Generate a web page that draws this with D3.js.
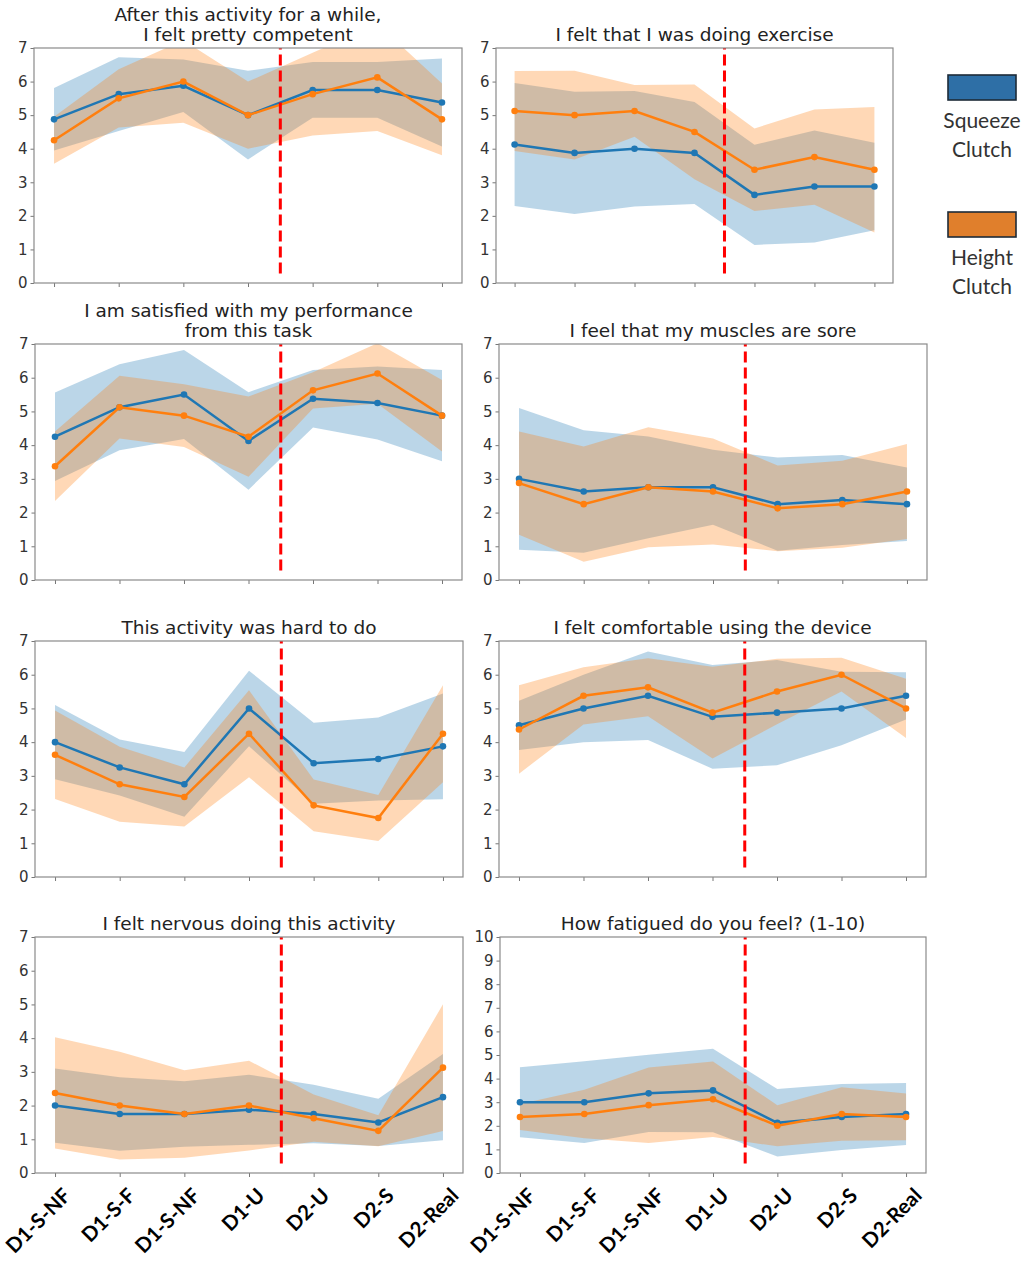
<!DOCTYPE html>
<html>
<head>
<meta charset="utf-8">
<script src="https://cdn.jsdelivr.net/npm/d3@7"></script>
<style>
  body { margin: 0; background: #fff; }
  svg { display: block; }
</style>
</head>
<body>
<div id="chart"></div>
<script>
// Conditions on the x axis (same for every panel)
const conditions = ['D1-S-NF', 'D1-S-F', 'D1-S-NF', 'D1-U', 'D2-U', 'D2-S', 'D2-Real'];
const seriesNames = [['Squeeze', 'Clutch'], ['Height', 'Clutch']];

// Mean and standard deviation per question, Squeeze clutch vs Height clutch
const competentSqueeze = [4.875, 5.625, 5.875, 5.0, 5.75, 5.75, 5.375];
const competentSqueezeSd = [0.93, 1.1, 0.78, 1.32, 0.83, 0.83, 1.31];
const competentHeight = [4.25, 5.5, 6.0, 5.0, 5.625, 6.125, 4.875];
const competentHeightSd = [0.7, 0.87, 1.23, 1.0, 1.23, 1.6, 1.07];

const exerciseSqueeze = [4.125, 3.875, 4.0, 3.875, 2.625, 2.875, 2.875];
const exerciseSqueezeSd = [1.83, 1.82, 1.72, 1.52, 1.49, 1.67, 1.3];
const exerciseHeight = [5.125, 5.0, 5.125, 4.5, 3.375, 3.75, 3.375];
const exerciseHeightSd = [1.19, 1.32, 0.77, 1.41, 1.23, 1.42, 1.87];

const satisfiedSqueeze = [4.25, 5.125, 5.5, 4.125, 5.375, 5.25, 4.875];
const satisfiedSqueezeSd = [1.31, 1.275, 1.32, 1.445, 0.855, 1.08, 1.355];
const satisfiedHeight = [3.375, 5.125, 4.875, 4.25, 5.625, 6.125, 4.875];
const satisfiedHeightSd = [1.03, 0.93, 0.93, 1.19, 0.54, 0.9, 1.06];

const soreSqueeze = [3.0, 2.625, 2.75, 2.75, 2.25, 2.375, 2.25];
const soreSqueezeSd = [2.1, 1.815, 1.51, 1.11, 1.38, 1.335, 1.09];
const soreHeight = [2.875, 2.25, 2.75, 2.625, 2.125, 2.25, 2.625];
const soreHeightSd = [1.53, 1.71, 1.78, 1.57, 1.27, 1.29, 1.41];

const hardSqueeze = [4.0, 3.25, 2.75, 5.0, 3.375, 3.5, 3.875];
const hardSqueezeSd = [1.1, 0.83, 0.96, 1.12, 1.2, 1.23, 1.57];
const hardHeight = [3.625, 2.75, 2.375, 4.25, 2.125, 1.75, 4.25];
const hardHeightSd = [1.31, 1.11, 0.875, 1.29, 0.765, 0.68, 1.44];

const comfortSqueeze = [4.5, 5.0, 5.375, 4.75, 4.875, 5.0, 5.375];
const comfortSqueezeSd = [0.73, 1.0, 1.31, 1.54, 1.56, 1.09, 0.7];
const comfortHeight = [4.375, 5.375, 5.625, 4.875, 5.5, 6.0, 5.0];
const comfortHeightSd = [1.31, 0.85, 0.86, 1.36, 0.97, 0.5, 0.88];

const nervousSqueeze = [2.0, 1.75, 1.75, 1.875, 1.75, 1.5, 2.25];
const nervousSqueezeSd = [1.1, 1.09, 0.97, 1.04, 0.87, 0.7, 1.28];
const nervousHeight = [2.375, 2.0, 1.75, 2.0, 1.625, 1.25, 3.125];
const nervousHeightSd = [1.65, 1.6, 1.3, 1.33, 0.7, 0.46, 1.88];

const fatigueSqueeze = [3.0, 3.0, 3.375, 3.5, 2.125, 2.375, 2.5];
const fatigueSqueezeSd = [1.48, 1.73, 1.64, 1.77, 1.43, 1.4, 1.31];
const fatigueHeight = [2.375, 2.5, 2.875, 3.125, 2.0, 2.5, 2.375];
const fatigueHeightSd = [0.55, 1.03, 1.6, 1.6, 0.87, 1.13, 0.99];

// Day 1 / Day 2 split drawn between D1-U and D2-U
const splitAt = 3.5;

const panels = [
  { title: ['After this activity for a while,', 'I felt pretty competent'], yMax: 7,
    series: [[competentSqueeze, competentSqueezeSd], [competentHeight, competentHeightSd]] },
  { title: ['I felt that I was doing exercise'], yMax: 7,
    series: [[exerciseSqueeze, exerciseSqueezeSd], [exerciseHeight, exerciseHeightSd]] },
  { title: ['I am satisfied with my performance', 'from this task'], yMax: 7,
    series: [[satisfiedSqueeze, satisfiedSqueezeSd], [satisfiedHeight, satisfiedHeightSd]] },
  { title: ['I feel that my muscles are sore'], yMax: 7,
    series: [[soreSqueeze, soreSqueezeSd], [soreHeight, soreHeightSd]] },
  { title: ['This activity was hard to do'], yMax: 7,
    series: [[hardSqueeze, hardSqueezeSd], [hardHeight, hardHeightSd]] },
  { title: ['I felt comfortable using the device'], yMax: 7,
    series: [[comfortSqueeze, comfortSqueezeSd], [comfortHeight, comfortHeightSd]] },
  { title: ['I felt nervous doing this activity'], yMax: 7,
    series: [[nervousSqueeze, nervousSqueezeSd], [nervousHeight, nervousHeightSd]] },
  { title: ['How fatigued do you feel? (1-10)'], yMax: 10,
    series: [[fatigueSqueeze, fatigueSqueezeSd], [fatigueHeight, fatigueHeightSd]] },
];

// Frame of each axes box in page pixels (the source is a pasted composite)
const frames = [
  { x0: 34, x1: 462, y0: 48, y1: 283 },
  { x0: 496, x1: 893, y0: 48, y1: 283 },
  { x0: 35, x1: 462, y0: 344, y1: 580 },
  { x0: 499, x1: 927, y0: 344, y1: 580 },
  { x0: 35, x1: 463, y0: 641, y1: 877 },
  { x0: 499, x1: 926, y0: 641, y1: 877 },
  { x0: 35, x1: 463, y0: 937, y1: 1173 },
  { x0: 500, x1: 926, y0: 937, y1: 1173 },
];

const lineColors = ['#1f77b4', '#ff7f0e'];
const legendFills = ['#2e6fa6', '#e07f2c'];
const W = 1024, H = 1262;

const svg = d3.select('#chart').append('svg')
  .attr('width', W).attr('height', H)
  .style('font-family', '"DejaVu Sans", sans-serif');

panels.forEach((p, pi) => {
  const f = frames[pi];
  const x = d3.scaleLinear().domain([-0.31, conditions.length - 1 + 0.31]).range([f.x0, f.x1]);
  const y = d3.scaleLinear().domain([0, p.yMax]).range([f.y1, f.y0]);
  const g = svg.append('g');

  const clipId = 'clip' + pi;
  g.append('clipPath').attr('id', clipId)
    .append('rect').attr('x', f.x0).attr('y', f.y0)
    .attr('width', f.x1 - f.x0).attr('height', f.y1 - f.y0);

  const plot = g.append('g').attr('clip-path', `url(#${clipId})`);

  // shaded +-1 SD bands, squeeze first so the overlap turns brownish
  p.series.forEach(([mean, sd], si) => {
    const area = d3.area()
      .x((d, i) => x(i))
      .y0((d, i) => y(d - sd[i]))
      .y1((d, i) => y(d + sd[i]));
    plot.append('path').datum(mean)
      .attr('d', area)
      .attr('fill', lineColors[si])
      .attr('fill-opacity', 0.3);
  });

  p.series.forEach(([mean], si) => {
    const line = d3.line().x((d, i) => x(i)).y(d => y(d));
    plot.append('path').datum(mean)
      .attr('d', line)
      .attr('fill', 'none')
      .attr('stroke', lineColors[si])
      .attr('stroke-width', 2.5);
    plot.selectAll(null).data(mean).join('circle')
      .attr('cx', (d, i) => x(i))
      .attr('cy', d => y(d))
      .attr('r', 3.3)
      .attr('fill', lineColors[si]);
  });

  // red dashed split line
  g.append('line')
    .attr('x1', x(splitAt)).attr('x2', x(splitAt))
    .attr('y1', y(p.yMax * 0.04)).attr('y2', y(p.yMax))
    .attr('stroke', '#ff0000')
    .attr('stroke-width', 3)
    .attr('stroke-dasharray', '11,5');

  // axes
  const yAxis = g.append('g')
    .attr('transform', `translate(${f.x0},0)`)
    .call(d3.axisLeft(y).tickValues(d3.range(0, p.yMax + 1))
      .tickFormat(d3.format('d')).tickSize(3.5).tickPadding(3));
  yAxis.select('.domain').remove();
  yAxis.selectAll('line').attr('stroke', '#777');
  yAxis.selectAll('text')
    .attr('fill', '#333')
    .style('font-size', '15px')
    .style('font-family', '"DejaVu Sans", sans-serif');

  const xAxis = g.append('g')
    .attr('transform', `translate(0,${f.y1})`)
    .call(d3.axisBottom(x).tickValues(d3.range(conditions.length)).tickSize(4).tickFormat(''));
  xAxis.select('.domain').remove();
  xAxis.selectAll('line').attr('stroke', '#777');

  g.append('rect')
    .attr('x', f.x0).attr('y', f.y0)
    .attr('width', f.x1 - f.x0).attr('height', f.y1 - f.y0)
    .attr('fill', 'none')
    .attr('stroke', '#8a8a8a')
    .attr('stroke-width', 1.2);

  // title
  const lineH = 20;
  const title = g.append('text')
    .attr('x', (f.x0 + f.x1) / 2)
    .attr('y', f.y0 - 7 - (p.title.length - 1) * lineH)
    .attr('text-anchor', 'middle')
    .attr('fill', '#222')
    .style('font-size', '18.5px');
  p.title.forEach((t, k) => {
    title.append('tspan')
      .attr('x', (f.x0 + f.x1) / 2)
      .attr('dy', k === 0 ? 0 : lineH)
      .text(t);
  });

  // rotated condition labels on the bottom row
  if (pi >= 6) {
    g.selectAll(null).data(conditions).join('text')
      .attr('transform', (d, i) => `translate(${x(i) + 17},${f.y1 + 24}) rotate(-45)`)
      .attr('text-anchor', 'end')
      .attr('fill', '#000')
      .style('font-family', 'Lato, "Open Sans", sans-serif')
      .style('font-weight', 'bold')
      .style('font-size', '20.5px')
      .text(d => d);
  }
});

// legend (pasted boxes on the right)
const legendY = [75, 212];
seriesNames.forEach((name, si) => {
  const lg = svg.append('g');
  lg.append('rect')
    .attr('x', 948).attr('y', legendY[si])
    .attr('width', 68).attr('height', 25)
    .attr('fill', legendFills[si])
    .attr('stroke', '#1d2b38')
    .attr('stroke-width', 1.6);
  name.forEach((t, k) => {
    lg.append('text')
      .attr('x', 982)
      .attr('y', legendY[si] + 53 + k * 29)
      .attr('text-anchor', 'middle')
      .attr('fill', '#333')
      .style('font-family', 'Lato, "Open Sans", sans-serif')
      .style('font-size', '21px')
      .text(t);
  });
});
</script>
</body>
</html>
